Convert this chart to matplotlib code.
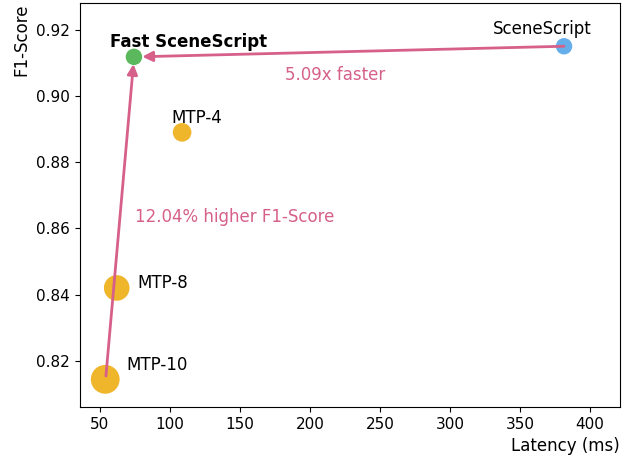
import matplotlib
matplotlib.use('Agg')
import matplotlib.pyplot as plt

# --- data ---
names = ['SceneScript', 'Fast SceneScript', 'MTP-4', 'MTP-8', 'MTP-10']
latency = [381.5, 74.3, 108.7, 62.0, 53.8]
f1 = [0.9150, 0.9118, 0.8890, 0.8420, 0.8144]
sizes = [140, 140, 180, 340, 430]
colors = ['#65aeea', '#5cb85c', '#efb52b', '#efb52b', '#efb52b']

pink = '#d6608a'

fig, ax = plt.subplots(figsize=(6.34, 4.59), dpi=100)
fig.subplots_adjust(left=0.126, right=0.978, top=0.993, bottom=0.113)

ax.scatter(latency, f1, s=sizes, c=colors, zorder=3, edgecolors='none')

# arrows toward Fast SceneScript
ax.annotate('', xy=(latency[1] + 2, f1[1]), xytext=(latency[0], f1[0]),
            arrowprops=dict(arrowstyle='-|>', color=pink, lw=2, mutation_scale=15,
                            shrinkA=0, shrinkB=4), zorder=4)
ax.annotate('', xy=(latency[1], f1[1] - 0.0005), xytext=(latency[4] + 0.5, f1[4] + 0.001),
            arrowprops=dict(arrowstyle='-|>', color=pink, lw=2, mutation_scale=15,
                            shrinkA=0, shrinkB=4), zorder=4)

ax.text(218, 0.9064, '5.09x faster', color=pink, fontsize=12, ha='center', va='center')
ax.text(75, 0.8635, '12.04% higher F1-Score', color=pink, fontsize=12, ha='left', va='center')

# point labels
ax.text(113, 0.9164, 'Fast SceneScript', fontsize=12, fontweight='bold', ha='center', va='center')
ax.text(366, 0.9203, 'SceneScript', fontsize=12, ha='center', va='center')
ax.text(119, 0.8934, 'MTP-4', fontsize=12, ha='center', va='center')
ax.text(77, 0.8435, 'MTP-8', fontsize=12, ha='left', va='center')
ax.text(69, 0.8188, 'MTP-10', fontsize=12, ha='left', va='center')

ax.set_xlim(35.7, 421.5)
ax.set_ylim(0.806, 0.928)
ax.set_xticks([50, 100, 150, 200, 250, 300, 350, 400])
ax.set_yticks([0.82, 0.84, 0.86, 0.88, 0.90, 0.92])
ax.tick_params(labelsize=11)
ax.set_xlabel('Latency (ms)', fontsize=12, loc='right')
ax.set_ylabel('F1-Score', fontsize=12, loc='top')

fig.savefig('out.png', dpi=100)
